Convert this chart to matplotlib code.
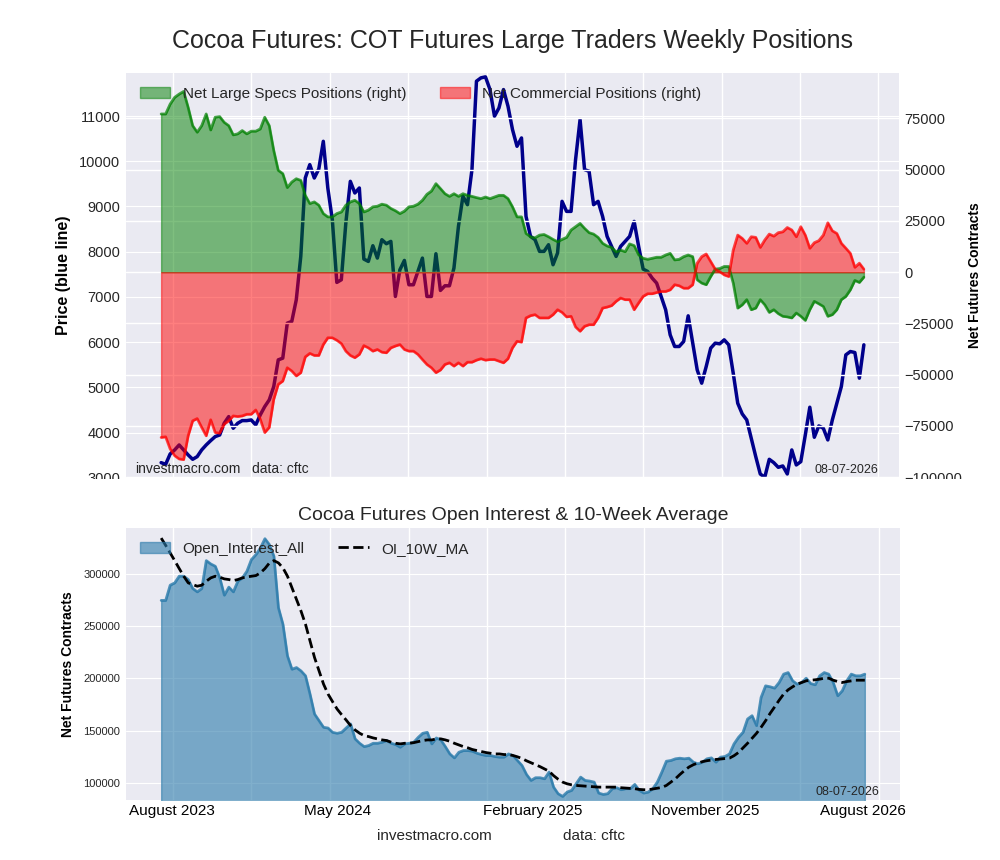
import numpy as np
import pandas as pd
import matplotlib
matplotlib.use('Agg')
import matplotlib.pyplot as plt
import matplotlib.dates as mdates
from matplotlib.patches import Rectangle

plt.style.use('seaborn-v0_8-darkgrid')
plt.rcParams['font.family'] = ['Liberation Sans', 'DejaVu Sans']

# weekly report dates
dates = pd.date_range('2023-07-14', periods=157, freq='7D')

# net positions, thousands of contracts
large_specs = [
    77.2, 77.2, 82.0, 85.3, 86.9, 88.2, 80.4, 71.5, 68.3, 71.5,
    77.2, 69.4, 75.6, 75.9, 73.1, 71.5, 67.0, 67.5, 69.1, 67.5,
    68.8, 68.8, 69.9, 75.6, 71.5, 59.4, 49.7, 48.1, 41.3, 44.0,
    45.6, 44.8, 37.5, 33.5, 34.3, 32.7, 28.6, 27.0, 27.0, 28.6,
    29.4, 32.7, 34.3, 35.1, 33.5, 29.4, 30.3, 31.9, 32.2, 33.2,
    32.7, 31.1, 30.0, 28.6, 29.8, 31.9, 32.2, 33.2, 35.1, 38.0,
    39.6, 43.2, 40.8, 38.3, 37.0, 38.3, 37.0, 38.3, 37.5, 37.0,
    36.4, 35.9, 36.7, 35.9, 36.7, 37.5, 37.5, 35.9, 31.9, 27.0,
    27.0, 18.9, 17.3, 16.8, 18.1, 18.4, 17.3, 16.0, 14.9, 16.0,
    17.0, 20.6, 22.2, 23.8, 21.4, 19.3, 18.6, 17.0, 14.1, 12.8,
    12.1, 10.0, 10.8, 10.0, 13.8, 13.0, 8.5, 6.8, 6.3, 6.8,
    7.3, 7.3, 8.4, 9.2, 6.0, 6.3, 7.6, 8.4, 7.6, -3.7,
    -5.3, -6.1, -2.1, 1.5, 1.8, 2.8, 2.8, -5.3, -17.5, -15.9,
    -13.4, -18.3, -17.5, -13.4, -15.9, -19.6, -18.3, -20.2, -21.5, -21.8,
    -22.3, -19.9, -21.5, -23.5, -18.3, -14.2, -15.4, -16.7, -21.5, -20.7,
    -18.3, -13.4, -11.8, -8.6, -4.0, -5.0, -2.4,
]
commercials = [
    -80.6, -80.3, -86.2, -89.5, -91.1, -91.4, -79.8, -72.5, -71.4, -75.7,
    -79.8, -72.0, -78.2, -78.5, -74.1, -72.5, -70.1, -70.4, -70.1, -69.3,
    -69.3, -67.2, -71.7, -78.2, -75.7, -62.0, -54.7, -53.1, -46.6, -48.2,
    -50.6, -49.0, -41.3, -39.6, -40.6, -40.6, -35.3, -32.0, -32.0, -33.2,
    -34.8, -38.5, -40.6, -41.7, -40.1, -35.8, -36.9, -38.5, -37.7, -39.0,
    -39.3, -36.9, -36.0, -35.3, -37.7, -38.5, -38.5, -40.1, -42.6, -45.0,
    -46.6, -49.0, -47.7, -45.0, -44.2, -45.8, -44.2, -45.8, -43.9, -43.9,
    -42.9, -42.2, -42.9, -42.6, -42.6, -43.4, -44.2, -42.2, -36.9, -33.7,
    -34.1, -22.3, -21.2, -20.7, -22.3, -22.3, -22.3, -20.7, -18.3, -19.6,
    -21.8, -21.5, -26.7, -28.8, -26.4, -25.6, -25.6, -22.3, -17.5, -17.0,
    -16.3, -14.2, -12.6, -13.4, -13.4, -18.3, -15.0, -11.8, -10.5, -10.5,
    -9.9, -9.4, -9.4, -8.6, -6.1, -6.6, -7.8, -7.8, -6.1, 4.4,
    7.6, 8.9, 5.2, 1.5, 0.3, -1.3, -2.1, 10.8, 18.1, 16.5,
    14.1, 17.3, 17.0, 12.1, 15.7, 18.6, 17.6, 19.3, 19.7, 21.8,
    20.6, 17.3, 22.2, 18.1, 11.7, 14.4, 15.4, 18.1, 24.1, 20.2,
    18.9, 14.1, 11.7, 9.2, 2.4, 4.4, 1.5,
]
price = [
    3339, 3302, 3531, 3620, 3730, 3620, 3509, 3413, 3472, 3620,
    3730, 3826, 3915, 3951, 4210, 4357, 4099, 4210, 4268, 4268,
    4283, 4173, 4394, 4578, 4726, 5021, 5611, 5648, 6422, 6460,
    6938, 7897, 9630, 9925, 9630, 9829, 10441, 9409, 8708, 7322,
    7381, 8635, 9556, 9298, 9409, 7838, 7786, 8133, 7860, 8266,
    8177, 8229, 7012, 7602, 7808, 7270, 7270, 7565, 7860, 7012,
    7012, 7956, 7145, 7248, 7248, 7639, 8561, 9225, 9040, 9815,
    11769, 11843, 11865, 11584, 10995, 11179, 11584, 11216, 10700, 10331,
    10515, 8782, 8339, 8266, 8008, 8008, 8155, 7713, 7971, 9114,
    8892, 8892, 10036, 10921, 9815, 9778, 9040, 9114, 8782, 8339,
    8118, 7897, 8118, 8229, 8339, 8671, 8118, 7617, 7565, 7418,
    7307, 7012, 6717, 6164, 5906, 5906, 6017, 6584, 5980, 5390,
    5095, 5463, 5869, 5980, 5965, 6053, 5943, 5316, 4652, 4416,
    4283, 3878, 3472, 3089, 3015, 3413, 3339, 3236, 3266, 3089,
    3620, 3288, 3361, 3951, 4564, 3900, 4151, 4099, 3841, 4283,
    4652, 5021, 5721, 5795, 5773, 5206, 5943,
]
# open interest and its 10-week average, thousands of contracts
open_interest = [
    274.6, 274.6, 289.2, 291.4, 297.8, 297.8, 294.6, 286.0, 282.8, 286.0,
    312.7, 309.5, 307.3, 296.2, 279.6, 287.3, 282.8, 293.0, 296.2, 302.5,
    313.7, 318.4, 324.8, 333.7, 328.0, 316.9, 267.6, 251.7, 221.5, 208.7,
    210.3, 207.1, 202.4, 184.9, 165.8, 159.4, 153.1, 152.4, 148.3, 147.4,
    148.3, 152.4, 156.3, 142.0, 137.8, 134.6, 135.6, 137.8, 137.8, 138.8,
    140.4, 137.8, 136.5, 134.0, 137.2, 137.8, 138.8, 143.5, 147.4, 148.3,
    137.2, 142.9, 141.0, 134.6, 127.6, 123.8, 129.2, 130.8, 130.8, 130.2,
    128.3, 127.0, 126.1, 126.1, 125.1, 124.5, 124.5, 127.6, 126.0, 121.3,
    116.5, 107.9, 102.2, 104.8, 104.8, 103.8, 110.2, 95.8, 89.5, 86.9,
    91.1, 92.7, 99.0, 105.4, 102.2, 101.6, 100.6, 90.1, 88.8, 89.5,
    94.3, 95.2, 93.3, 94.3, 94.3, 98.4, 92.7, 90.1, 91.1, 94.3,
    100.6, 110.2, 120.6, 121.3, 122.9, 123.5, 122.9, 123.5, 119.7, 118.1,
    119.7, 122.9, 123.8, 119.7, 124.5, 125.1, 127.6, 137.2, 143.5, 148.3,
    161.0, 164.2, 154.7, 181.7, 192.8, 191.9, 190.6, 196.0, 204.0, 205.5,
    197.6, 194.4, 196.0, 200.1, 195.0, 193.8, 202.4, 205.5, 204.0, 196.0,
    183.3, 188.1, 197.6, 204.0, 202.4, 202.4, 204.0,
]
oi_ma = [
    334.3, 327.3, 320.0, 312.7, 305.1, 297.8, 291.4, 289.8, 288.2, 289.2,
    293.0, 296.2, 297.8, 296.8, 295.2, 294.6, 293.6, 294.6, 296.2, 297.1,
    297.8, 298.4, 301.0, 305.1, 310.5, 312.7, 310.5, 305.7, 297.8, 286.6,
    275.5, 264.4, 251.7, 235.8, 219.9, 207.1, 194.4, 184.9, 177.6, 170.6,
    165.2, 160.1, 154.7, 150.5, 147.4, 145.1, 144.2, 142.9, 142.0, 141.0,
    140.4, 138.8, 137.8, 137.2, 137.8, 137.8, 138.4, 139.4, 140.4, 141.0,
    141.0, 142.0, 142.0, 141.0, 139.7, 137.8, 136.2, 134.6, 133.4, 131.8,
    130.8, 129.9, 128.9, 128.3, 127.6, 127.6, 127.0, 127.0, 126.1, 124.8,
    123.2, 121.0, 119.1, 117.3, 115.4, 113.2, 111.0, 106.8, 103.4, 100.6,
    99.0, 98.0, 97.4, 97.1, 96.8, 96.5, 96.1, 95.8, 95.8, 95.8,
    95.8, 95.8, 95.2, 94.9, 94.6, 94.3, 93.6, 93.3, 93.3, 94.0,
    94.6, 95.5, 97.4, 100.6, 103.8, 107.9, 111.6, 115.0, 117.3, 118.9,
    120.2, 121.1, 121.7, 122.3, 122.7, 123.0, 123.6, 125.9, 129.0, 133.4,
    137.8, 142.6, 147.4, 153.1, 159.4, 166.4, 172.6, 179.0, 184.9, 189.0,
    191.9, 194.4, 196.0, 197.6, 198.2, 198.6, 199.2, 200.1, 200.1, 198.2,
    196.9, 196.0, 196.9, 197.6, 198.2, 198.2, 198.2,
]

tick_dates = pd.to_datetime(['2023-07-31', '2024-04-13', '2025-02-10', '2025-11-05', '2026-07-07'])
tick_labels = ['August 2023', 'May 2024', 'February 2025', 'November 2025', 'August 2026']
report_date = '08-07-2026'

specs = np.array(large_specs) * 1000
comms = np.array(commercials) * 1000
oi = np.array(open_interest) * 1000
ma = np.array(oi_ma) * 1000

fig = plt.figure(figsize=(10, 8.6), dpi=100)
fig.suptitle('Cocoa Futures: COT Futures Large Traders Weekly Positions', fontsize=18, x=0.5125, y=0.966)


def set_xaxis(ax, labels):
    ax.xaxis.set_minor_locator(mdates.MonthLocator(bymonth=(4, 8, 12)))
    ax.set_xticks(tick_dates)
    ax.set_xticklabels(labels if labels else [''] * len(tick_dates), fontsize=11, color='black')
    ax.xaxis.grid(False, which='major')
    ax.xaxis.grid(True, which='minor', color='white', linewidth=1)
    ax.tick_params(which='both', length=0)
    ax.tick_params(axis='x', pad=3)


# --- top: price + net positions
ax1 = fig.add_axes([0.126, 0.4442, 0.773, 0.4709])
ax1.plot(dates, price, color='darkblue', linewidth=2.5)
ax1.set_ylim(3000, 11950)
ax1.set_ylabel('Price (blue line)', fontsize=11.5, fontweight='bold', color='black', labelpad=6)
ax1.tick_params(axis='y', labelsize=10.5, pad=4)
set_xaxis(ax1, None)

ax2 = ax1.twinx()
ax2.fill_between(dates, specs, 0, color='green', alpha=0.5, label='Net Large Specs Positions (right)')
ax2.plot(dates, specs, color='green', alpha=0.7, linewidth=2)
ax2.fill_between(dates, comms, 0, color='red', alpha=0.5, label='Net Commercial Positions (right)')
ax2.plot(dates, comms, color='red', alpha=0.7, linewidth=2)
ax2.set_ylabel('Net Futures Contracts', fontsize=10, fontweight='bold', color='black')
ax2.tick_params(axis='y', labelsize=10.5, pad=4, length=0)
ax2.grid(True, which='major', axis='y', color='white', linewidth=1)
set_xaxis(ax2, None)
ax1.set_xlim(dates[0] - (dates[-1] - dates[0]) * 0.05, dates[-1] + (dates[-1] - dates[0]) * 0.05)
ax2.legend(loc='upper left', ncol=2, fontsize=11, frameon=False,
           bbox_to_anchor=(0.0, 1.0), columnspacing=2.2)
ax2.text(0.012, 0.006, 'investmacro.com', transform=ax2.transAxes, fontsize=10, va='bottom')
ax2.text(0.163, 0.006, 'data: cftc', transform=ax2.transAxes, fontsize=10, va='bottom')
ax2.text(0.973, 0.006, report_date, transform=ax2.transAxes, fontsize=9, ha='right', va='bottom')

# strip hiding the lower half of the bottom tick labels
fig.patches.append(Rectangle((0.0, 0.415), 1.0, 0.0275, transform=fig.transFigure,
                             facecolor='white', edgecolor='none', zorder=5))

# --- bottom: open interest
ax3 = fig.add_axes([0.126, 0.0698, 0.774, 0.3163])
ax3.fill_between(dates, oi, 0, color='#2b7bab', alpha=0.6, label='Open_Interest_All')
ax3.plot(dates, oi, color='#2b7bab', alpha=0.8, linewidth=2)
ax3.plot(dates, ma, color='black', linestyle='--', linewidth=2, label='OI_10W_MA')
ax3.set_ylim(83500, 344000)
ax3.set_xlim(ax1.get_xlim())
ax3.set_title('Cocoa Futures Open Interest & 10-Week Average', fontsize=14, pad=6)
ax3.set_ylabel('Net Futures Contracts', fontsize=10, fontweight='bold', color='black', labelpad=6)
ax3.tick_params(axis='y', labelsize=8, pad=4)
set_xaxis(ax3, tick_labels)
ax3.legend(loc='upper left', ncol=2, fontsize=11, frameon=False, columnspacing=2.2)
ax3.text(0.973, 0.006, report_date, transform=ax3.transAxes, fontsize=9, ha='right', va='bottom')

fig.text(0.377, 0.028, 'investmacro.com', fontsize=11, va='center')
fig.text(0.563, 0.028, 'data: cftc', fontsize=11, va='center')

fig.savefig('out.png', dpi=100)
